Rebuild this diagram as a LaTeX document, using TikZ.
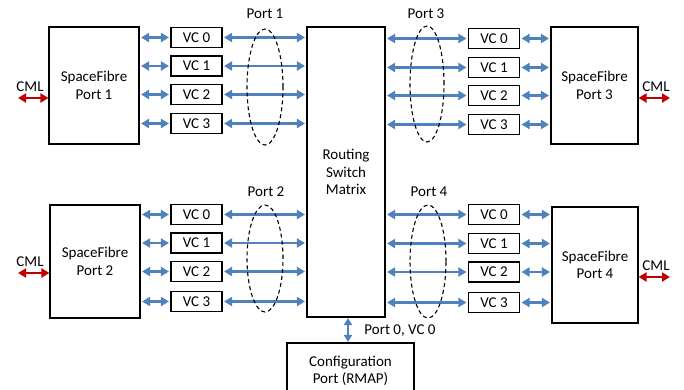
\documentclass[tikz,border=0pt]{standalone}
\usepackage{fontspec}
\setmainfont{Carlito}
\usetikzlibrary{arrows.meta,shapes.geometric}
\definecolor{lblue}{HTML}{4F81BD}
\definecolor{lred}{HTML}{C00000}
\begin{document}
\begin{tikzpicture}[x=1pt,y=-1pt,
  box/.style={draw, line width=1.1pt, align=center, inner sep=0pt, font=\fontsize{15}{17.5}\selectfont},
  vcbox/.style={box, minimum width=51pt, minimum height=20pt},
  lbl/.style={font=\fontsize{15}{17.5}\selectfont, inner sep=0pt},
  barrow/.style={draw=lblue, line width=2.6pt, {Triangle[length=8pt,width=9pt]}-{Triangle[length=8pt,width=9pt]}, shorten <=1.5pt, shorten >=1.5pt},
  rarrow/.style={draw=lred, line width=2.6pt, {Triangle[length=8pt,width=9pt]}-{Triangle[length=8pt,width=9pt]}},
  grp/.style={draw, ellipse, dash pattern=on 4pt off 3pt, line width=1.1pt, inner sep=0pt}]
\clip (0,0) rectangle (684,389);
% main boxes
\node[box, minimum width=78pt, minimum height=290pt] (rsm) at (346,172) {Routing\\Switch\\Matrix};
\node[box, minimum width=90pt, minimum height=117pt] (p1) at (94,85.5) {SpaceFibre\\Port 1};
\node[box, minimum width=90pt, minimum height=113pt] (p2) at (95,261.5) {SpaceFibre\\Port 2};
\node[box, minimum width=87pt, minimum height=117pt] (p3) at (594.5,85.5) {SpaceFibre\\Port 3};
\node[box, minimum width=86pt, minimum height=116pt] (p4) at (595,265) {SpaceFibre\\Port 4};
\node[box, minimum width=127pt, minimum height=60pt] (cfg) at (350.5,373) {};
\node[lbl, align=center] (cfgt) at (350.5,371) {Configuration\\Port (RMAP)};
% VC boxes
\foreach \i/\y in {0/37.5,1/66,2/94.5,3/123.5}{
  \node[vcbox] (a\i) at (196.5,\y) {VC \i};
  \draw[barrow] (p1.east |- a\i.west) -- (a\i.west);
  \draw[barrow] (a\i.east) -- (rsm.west |- a\i.east);
}
\foreach \i/\y in {0/38.5,1/67.5,2/95.5,3/124.5}{
  \node[vcbox] (c\i) at (494,\y) {VC \i};
  \draw[barrow] (c\i.east) -- (p3.west |- c\i.east);
  \draw[barrow] (rsm.east |- c\i.west) -- (c\i.west);
}
\foreach \i/\y in {0/214.5,1/243,2/271.5,3/301.5}{
  \node[vcbox] (b\i) at (196.5,\y) {VC \i};
  \draw[barrow] (p2.east |- b\i.west) -- (b\i.west);
  \draw[barrow] (b\i.east) -- (rsm.west |- b\i.east);
}
\foreach \i/\y in {0/214.5,1/243.5,2/272,3/302.5}{
  \node[vcbox] (d\i) at (494,\y) {VC \i};
  \draw[barrow] (d\i.east) -- (p4.west |- d\i.east);
  \draw[barrow] (rsm.east |- d\i.west) -- (d\i.west);
}
% port groupings
\node[grp, minimum width=36pt, minimum height=116pt] (e1) at (265,87) {};
\node[grp, minimum width=36pt, minimum height=107pt] (e2) at (265,258.5) {};
\node[grp, minimum width=34pt, minimum height=116pt] (e3) at (427,84) {};
\node[grp, minimum width=36pt, minimum height=113pt] (e4) at (428,261.5) {};
\node[lbl] (l1) at (265,14) {Port 1};
\node[lbl] (l2) at (266,192) {Port 2};
\node[lbl] (l3) at (426,14) {Port 3};
\node[lbl] (l4) at (429,192) {Port 4};
% CML
\coordinate (m1) at (18,98);
\coordinate (m2) at (18,273);
\coordinate (m3) at (670,98);
\coordinate (m4) at (670,277);
\draw[rarrow] (m1) -- (p1.west |- m1);
\draw[rarrow] (m2) -- (p2.west |- m2);
\draw[rarrow] (p3.east |- m3) -- (m3);
\draw[rarrow] (p4.east |- m4) -- (m4);
\node[lbl] (t1) at (30,87) {CML};
\node[lbl] (t2) at (30,262) {CML};
\node[lbl] (t3) at (656,87) {CML};
\node[lbl] (t4) at (656,266) {CML};
% config link
\coordinate (k) at (348,0);
\draw[barrow, line width=2pt, {Triangle[length=7pt,width=8pt]}-{Triangle[length=7pt,width=8pt]}, shorten <=0.5pt, shorten >=0.5pt] (k |- rsm.south) -- (k |- cfg.north);
\node[lbl] (pl) at (400,331) {Port 0, VC 0};
\end{tikzpicture}
\end{document}
